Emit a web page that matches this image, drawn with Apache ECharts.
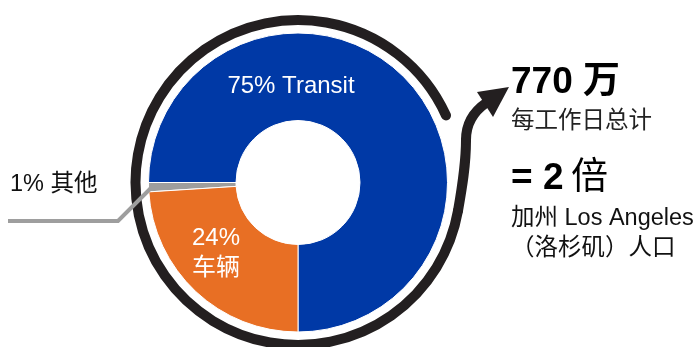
<!DOCTYPE html>
<html>
<head>
<meta charset="utf-8">
<script src="https://cdn.jsdelivr.net/npm/echarts@6/dist/echarts.min.js"></script>
<style>
html,body{margin:0;padding:0;background:#fff;}
#chart{width:700px;height:347px;}
</style>
</head>
<body>
<div id="chart"></div>
<script>
// ---- data ----
const categories = ['Transit', '其他', '车辆'];
const values = [75, 1, 24];
const sliceLabels = ['75% Transit', '1% 其他', '24%\n车辆'];
const sideTexts = ['770 万', '每工作日总计', '= 2', '倍', '加州 Los Angeles', '（洛杉矶）人口'];

const colors = ['#0039A6', '#9E9E9E', '#E86F24'];
const FONT = '"Liberation Sans", Arial, "Noto Sans CJK SC", sans-serif';
const INK = '#231F20';

const chart = echarts.init(document.getElementById('chart'), null, {renderer: 'canvas'});

const cx = 298, cy = 182.5, R = 162.5;
const D = Math.PI / 180;
const e = [cx + R * Math.cos(10 * D), cy + R * Math.sin(10 * D)];

const labelPos = [[291, 86], [10, 185], [216, 253]];
const lineStyle = {fill: null, stroke: INK, lineWidth: 10, lineCap: 'round'};

chart.setOption({
  animation: false,
  series: [{
    type: 'pie',
    center: [cx, cy],
    radius: [62, 149.5],
    startAngle: 270,
    clockwise: false,
    avoidLabelOverlap: false,
    silent: true,
    z: 2,
    itemStyle: {borderColor: '#ffffff', borderWidth: 1},
    label: {
      show: true,
      position: 'inside',
      color: '#ffffff',
      fontSize: 24,
      lineHeight: 30,
      fontFamily: FONT,
      align: 'center',
      verticalAlign: 'middle',
      formatter: function (p) { return sliceLabels[p.dataIndex]; }
    },
    labelLine: {show: false},
    labelLayout: function (p) {
      const pos = labelPos[p.dataIndex];
      if (p.dataIndex === 1) return {x: pos[0], y: pos[1], align: 'left', verticalAlign: 'middle'};
      return {x: pos[0], y: pos[1], align: 'center', verticalAlign: 'middle'};
    },
    data: categories.map(function (c, i) {
      const item = {name: c, value: values[i], itemStyle: {color: colors[i]}};
      if (i === 1) item.label = {color: '#111111', fontSize: 23.5, align: 'left'};
      return item;
    })
  }],
  graphic: [
    {type: 'arc', z: 10, shape: {cx: cx, cy: cy, r: R, startAngle: 10 * D, endAngle: 335.6 * D, clockwise: true},
      style: lineStyle},
    {type: 'bezierCurve', z: 10, shape: {x1: e[0], y1: e[1], cpx1: 462, cpy1: 188, cpx2: 466, cpy2: 165, x2: 466, y2: 140},
      style: lineStyle},
    {type: 'bezierCurve', z: 10, shape: {x1: 466, y1: 140, cpx1: 466, cpy1: 125, cpx2: 473, cpy2: 112, x2: 486, y2: 103},
      style: lineStyle},
    {type: 'polygon', z: 10, shape: {points: [[509, 87], [477, 92], [493, 117]]},
      style: {fill: INK}},
    {type: 'polyline', z: 11, shape: {points: [[8, 221], [118, 221], [153, 186]]},
      style: {stroke: '#9E9E9E', lineWidth: 4, fill: null}},
    {type: 'text', z: 12, x: 511, y: 83, style: {text: sideTexts[0], font: 'bold 37px ' + FONT, fill: '#000', textVerticalAlign: 'middle'}},
    {type: 'text', z: 12, x: 511, y: 122, style: {text: sideTexts[1], font: '23.5px ' + FONT, fill: '#222', textVerticalAlign: 'middle'}},
    {type: 'text', z: 12, x: 511, y: 179, style: {text: sideTexts[2], font: 'bold 37px ' + FONT, fill: '#000', textVerticalAlign: 'middle'}},
    {type: 'text', z: 12, x: 571, y: 179, style: {text: sideTexts[3], font: '37px ' + FONT, fill: '#000', textVerticalAlign: 'middle'}},
    {type: 'text', z: 12, x: 511, y: 219, style: {text: sideTexts[4], font: '23.5px ' + FONT, fill: '#111', textVerticalAlign: 'middle'}},
    {type: 'text', z: 12, x: 511, y: 249, style: {text: sideTexts[5], font: '23.5px ' + FONT, fill: '#111', textVerticalAlign: 'middle'}}
  ]
});
</script>
</body>
</html>
